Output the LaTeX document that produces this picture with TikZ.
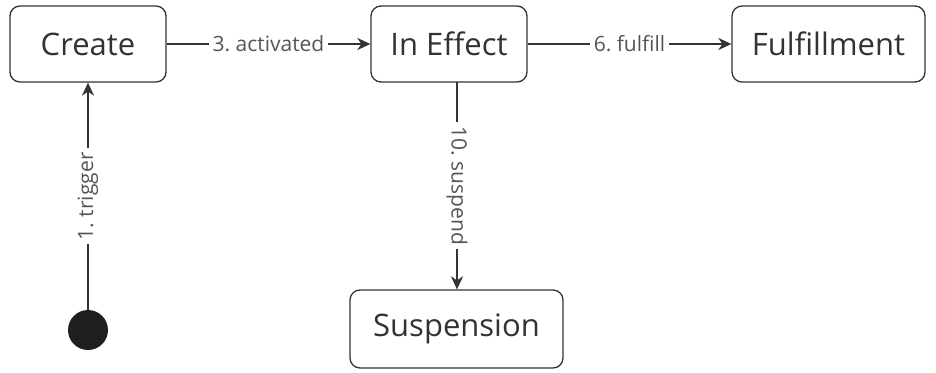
\documentclass[tikz,border=0pt]{standalone}
\usepackage{fontspec}
\setmainfont{Open Sans}
\usetikzlibrary{arrows.meta}
\definecolor{ink}{HTML}{333333}
\definecolor{labelgray}{HTML}{555555}
\frenchspacing
\begin{document}
\begin{tikzpicture}[x=1pt,y=-1pt,
  state/.style={draw=ink, line width=1.3pt, rounded corners=10pt, fill=white,
    text=ink, font=\fontsize{31}{36}\selectfont, inner sep=0pt, anchor=center},
  conn/.style={draw=ink, line width=1.5pt, -{Stealth[length=13pt,width=12pt,inset=4pt]}},
  lbl/.style={fill=white, text=labelgray, font=\fontsize{21}{24}\selectfont,
    inner xsep=4pt, inner ysep=1pt},
  startdot/.style={circle, fill=ink!60!black, minimum size=40pt, inner sep=0pt}]
  \useasboundingbox (0,0) rectangle (936,372);

  % states
  \node[state, minimum width=156pt, minimum height=76pt] (create) at (88,44) {Create};
  \node[state, minimum width=156pt, minimum height=76pt] (effect) at (449,44) {In Effect};
  \node[state, minimum width=193pt, minimum height=76pt] (fulfil) at (828.5,44) {Fulfillment};
  \node[state, minimum width=213pt, minimum height=78pt] (susp) at (456.5,329) {Suspension};

  % initial pseudo-state
  \node[startdot] (init) at (88,330) {};

  % transitions
  \draw[conn] (init.north) -- node[lbl, rotate=90] {1. trigger} (create.south);
  \draw[conn] (create.east) -- node[lbl] {3. activated} (effect.west);
  \draw[conn] (effect.east) -- node[lbl] {6. fulfill} (fulfil.west);
  \coordinate (effectbot) at (457,82);
  \draw[conn] (effectbot) -- node[lbl, rotate=-90] {10. suspend} (effectbot |- susp.north);
\end{tikzpicture}
\end{document}
